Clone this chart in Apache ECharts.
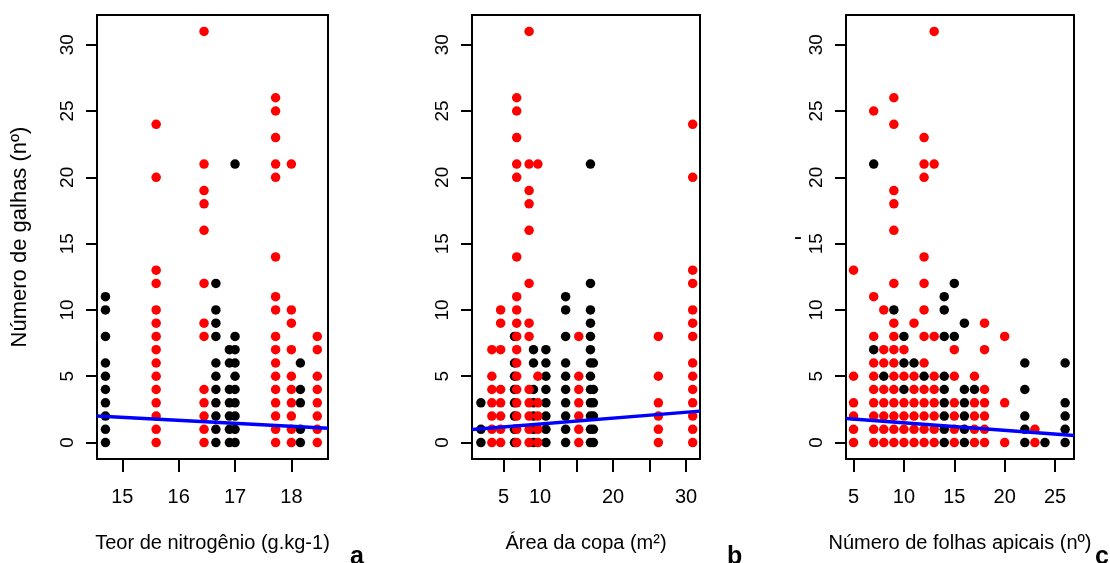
<!DOCTYPE html>
<html>
<head>
<meta charset="utf-8">
<script src="https://cdn.jsdelivr.net/npm/echarts@6/dist/echarts.min.js"></script>
<style>
  html, body { margin: 0; padding: 0; background: #fff; }
  #main { width: 1110px; height: 563px; }
</style>
</head>
<body>
<div id="main"></div>
<script>
// y ticks shared by the three panels
var yTicks = [0, 5, 10, 15, 20, 25, 30];

// panel a - teor de nitrogenio
var aTicks = [15, 16, 17, 18];
var aBlackX = [14.7, 16.66, 16.9, 17.0, 18.16];
var aBlackY = [
    [0, 1, 2, 3, 4, 5, 6, 8, 10, 11],
    [0, 1, 2, 3, 4, 5, 6, 8, 9, 10, 12],
    [0, 1, 2, 3, 4, 6, 7],
    [0, 1, 2, 3, 4, 5, 6, 7, 8, 21],
    [0, 1, 3, 4, 6]
];
var aRedX = [15.6, 16.45, 17.72, 18.0, 18.46];
var aRedY = [
    [0, 1, 2, 3, 4, 5, 6, 7, 8, 9, 10, 12, 13, 20, 24],
    [0, 1, 2, 3, 4, 8, 9, 12, 16, 18, 19, 21, 31],
    [0, 1, 2, 3, 4, 5, 6, 7, 8, 10, 11, 14, 20, 21, 23, 25, 26],
    [0, 1, 2, 3, 4, 5, 7, 9, 10, 21],
    [0, 1, 2, 3, 4, 5, 7, 8]
];
var aFitX = [14.55, 18.65];
var aFitY = [2.0, 1.07];

// panel b - area da copa
var bTicks = [5, 10, 15, 20, 25, 30];
var bLabels = [5, 10, 20, 30];
var bBlackX = [1.9, 6.5, 9.1, 10.8, 13.5, 16.9, 17.3];
var bBlackY = [
    [0, 1, 3],
    [0, 1, 2, 3, 4, 5, 6, 8],
    [0, 1, 2, 3, 4, 6, 7],
    [0, 1, 2, 3, 4, 5, 6, 7],
    [0, 1, 2, 3, 4, 5, 6, 8, 10, 11],
    [0, 1, 2, 3, 4, 5, 6, 7, 8, 9, 10, 12, 21],
    [0, 1, 2, 3, 4, 6]
];
var bRedX = [3.4, 4.6, 6.8, 8.5, 9.7, 15.3, 26.2, 30.9];
var bRedY = [
    [0, 1, 2, 3, 4, 5, 7],
    [0, 1, 2, 3, 4, 7, 9, 10],
    [0, 1, 2, 3, 4, 5, 6, 7, 8, 9, 10, 11, 14, 20, 21, 23, 25, 26],
    [0, 1, 2, 3, 4, 8, 9, 12, 16, 18, 19, 21, 31],
    [0, 1, 2, 3, 5, 21],
    [0, 1, 2, 3, 4, 5, 8],
    [0, 1, 2, 3, 5, 8],
    [0, 1, 2, 3, 4, 5, 6, 8, 9, 10, 12, 13, 20, 24]
];
var bFitX = [0.68, 31.9];
var bFitY = [0.98, 2.37];

// panel c - numero de folhas apicais
var cTicks = [5, 10, 15, 20, 25];
var cBlackX = [7, 8, 9, 10, 11, 12, 14, 15, 16, 17, 22, 24, 26];
var cBlackY = [
    [7, 21], [5], [10], [4, 6, 8], [6], [5],
    [0, 1, 2, 3, 4, 5, 8, 10, 11],
    [8, 12],
    [0, 1, 2, 3, 4, 9],
    [4],
    [0, 1, 2, 4, 6],
    [0],
    [0, 1, 2, 3, 6]
];
var cRedX = [5, 7, 8, 9, 10, 11, 12, 13, 15, 17, 18, 20, 23];
var cRedY = [
    [0, 1, 2, 3, 5, 13],
    [0, 1, 2, 3, 4, 5, 6, 8, 11, 25],
    [0, 1, 2, 3, 4, 6, 7, 10],
    [0, 1, 2, 3, 4, 5, 6, 7, 8, 9, 12, 16, 18, 19, 24, 26],
    [0, 1, 2, 3, 5, 7],
    [0, 1, 2, 3, 4, 5, 9],
    [0, 1, 2, 3, 4, 6, 8, 10, 12, 14, 20, 21, 23],
    [0, 1, 2, 3, 4, 5, 8, 21, 31],
    [0, 1, 2, 3, 5, 7],
    [0, 1, 2, 3, 5],
    [0, 1, 2, 3, 4, 7, 9],
    [0, 3, 8],
    [0, 1]
];
var cFitX = [4.25, 26.88];
var cFitY = [1.81, 0.53];

var FONT = 'Liberation Sans, Arial, sans-serif';

// turn column lists into [x, y] points
function pts(xs, ys) {
    var out = [];
    xs.forEach(function (x, i) {
        ys[i].forEach(function (y) { out.push([x, y]); });
    });
    return out;
}
function line(xs, ys) {
    return xs.map(function (x, i) { return [x, ys[i]]; });
}

function xAxisOf(idx, min, max, ticks, labels, name) {
    return {
        gridIndex: idx, type: 'value', min: min, max: max,
        name: name, nameLocation: 'middle', nameGap: 74,
        nameTextStyle: { fontFamily: FONT, fontSize: 20, color: '#000' },
        axisLine: { show: false, onZero: false },
        splitLine: { show: false },
        axisTick: { customValues: ticks, length: 13, lineStyle: { color: '#000', width: 2 } },
        axisLabel: { customValues: labels, margin: 28, fontFamily: FONT, fontSize: 20, color: '#000' }
    };
}
function yAxisOf(idx, name, gap, rot, size) {
    return {
        gridIndex: idx, type: 'value', min: -1.24, max: 32.24,
        name: name, nameLocation: 'middle', nameGap: gap, nameRotate: rot,
        nameTextStyle: { fontFamily: FONT, fontSize: size, color: '#000' },
        axisLine: { show: false, onZero: false },
        splitLine: { show: false },
        axisTick: { customValues: yTicks, length: 11, lineStyle: { color: '#000', width: 2 } },
        axisLabel: { customValues: yTicks, rotate: 90, margin: 20, fontFamily: FONT, fontSize: 19, color: '#000' }
    };
}
function dots(idx, data, color) {
    return {
        type: 'scatter', xAxisIndex: idx, yAxisIndex: idx, data: data,
        symbolSize: 9.5, itemStyle: { color: color, opacity: 1 }, silent: true
    };
}
function fit(idx, data) {
    return {
        type: 'line', xAxisIndex: idx, yAxisIndex: idx, data: data, symbol: 'none',
        lineStyle: { color: '#0000FF', width: 3.5 }, z: 5, silent: true
    };
}

var chart = echarts.init(document.getElementById('main'));
var option = {
    animation: false,
    backgroundColor: '#fff',
    title: [
        { text: 'a', left: 345, top: 540, textStyle: { fontFamily: FONT, fontSize: 25, fontWeight: 'bold', color: '#000' } },
        { text: 'b', left: 722, top: 540, textStyle: { fontFamily: FONT, fontSize: 25, fontWeight: 'bold', color: '#000' } },
        { text: 'c', left: 1090, top: 540, textStyle: { fontFamily: FONT, fontSize: 25, fontWeight: 'bold', color: '#000' } }
    ],
    grid: [
        { left: 97, right: 782, top: 15, bottom: 104, show: true, borderColor: '#000', borderWidth: 2 },
        { left: 472, right: 410, top: 15, bottom: 104, show: true, borderColor: '#000', borderWidth: 2 },
        { left: 846, right: 36, top: 15, bottom: 104, show: true, borderColor: '#000', borderWidth: 2 }
    ],
    xAxis: [
        xAxisOf(0, 14.55, 18.65, aTicks, aTicks, 'Teor de nitrogênio (g.kg-1)'),
        xAxisOf(1, 0.68, 31.9, bTicks, bLabels, 'Área da copa (m²)'),
        xAxisOf(2, 4.25, 26.88, cTicks, cTicks, 'Número de folhas apicais (nº)')
    ],
    yAxis: [
        yAxisOf(0, 'Número de galhas (nº)', 66, 90, 22),
        yAxisOf(1, '', 40, 90, 22),
        yAxisOf(2, '-', 44, 0, 24)
    ],
    series: [
        dots(0, pts(aBlackX, aBlackY), '#000000'),
        dots(0, pts(aRedX, aRedY), '#FF0000'),
        fit(0, line(aFitX, aFitY)),
        dots(1, pts(bBlackX, bBlackY), '#000000'),
        dots(1, pts(bRedX, bRedY), '#FF0000'),
        fit(1, line(bFitX, bFitY)),
        dots(2, pts(cBlackX, cBlackY), '#000000'),
        dots(2, pts(cRedX, cRedY), '#FF0000'),
        fit(2, line(cFitX, cFitY))
    ]
};
chart.setOption(option);
</script>
</body>
</html>
